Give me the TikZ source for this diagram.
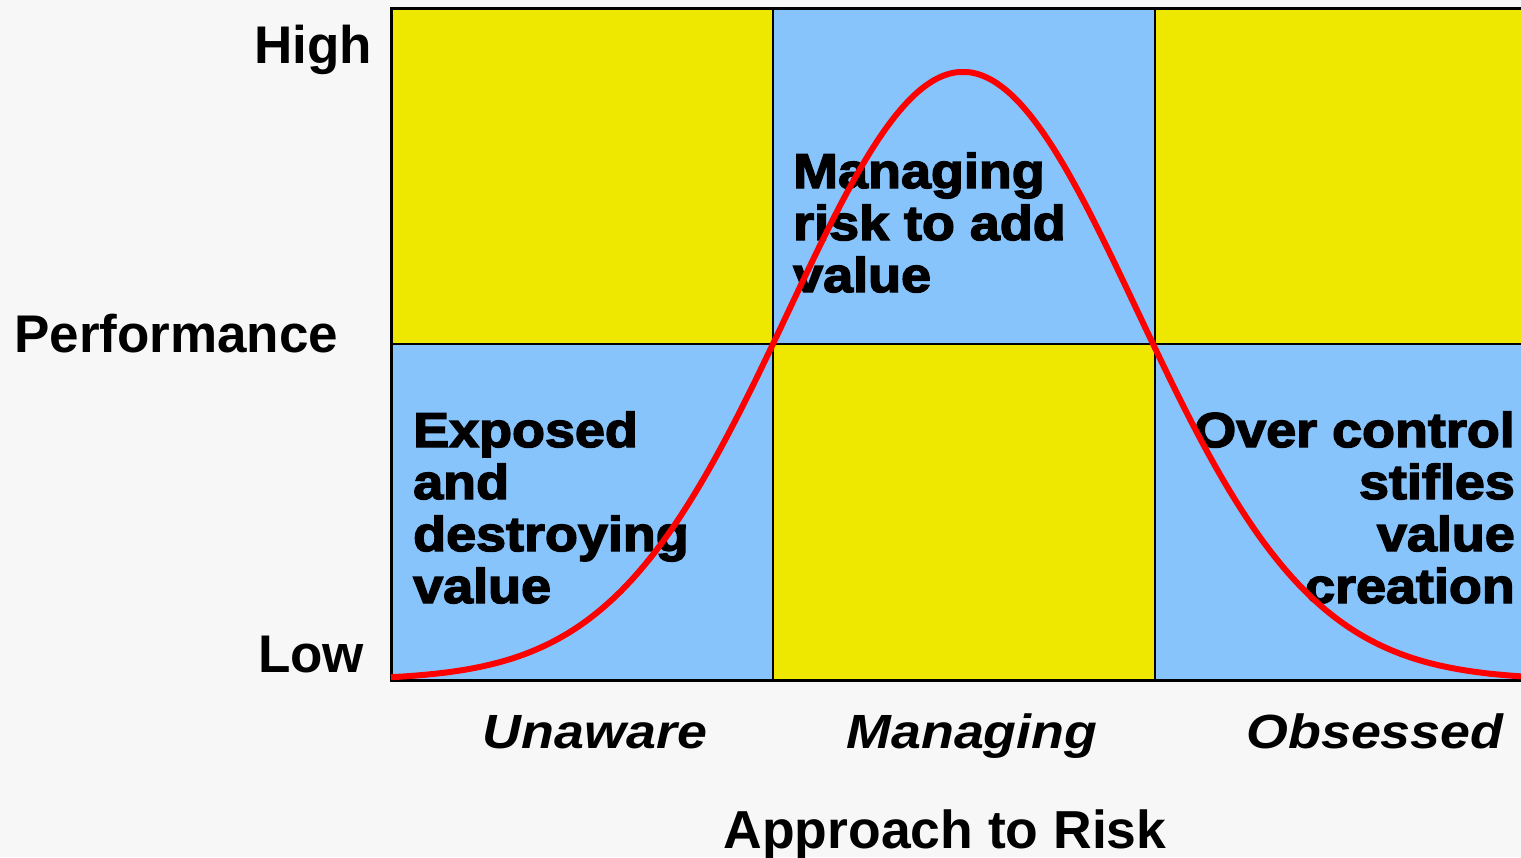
\documentclass[tikz,border=0pt]{standalone}
\usepackage{fontspec}
\setmainfont{Liberation Sans}
\newfontfamily\cellfont[FakeBold=3,FakeStretch=1.1]{Liberation Sans}
\newfontfamily\catfont[FakeStretch=1.12]{Liberation Sans}
\definecolor{bgc}{RGB}{247,247,247}
\definecolor{ylw}{RGB}{238,232,0}
\definecolor{blu}{RGB}{136,196,252}
\definecolor{crv}{RGB}{255,0,0}
\tikzset{
  axislabel/.style={inner sep=0pt, font=\fontsize{53}{60}\selectfont\bfseries},
  catlabel/.style={inner sep=0pt, font=\catfont\fontsize{48}{52}\selectfont\bfseries\itshape},
  celltext/.style={inner sep=0pt, font=\cellfont\fontsize{49}{52}\selectfont\bfseries},
  gridline/.style={draw=black, line width=2pt},
  curveline/.style={draw=crv, line width=6pt}
}
\begin{document}
\begin{tikzpicture}[x=1pt,y=-1pt]
\useasboundingbox (0,0) rectangle (1521,857);
\fill[bgc] (0,0) rectangle (1521,857);
\begin{scope}
\clip (0,0) rectangle (1521,857);
% cells
\fill[ylw] (391,8) rectangle (773,344);
\fill[blu] (773,8) rectangle (1155,344);
\fill[ylw] (1155,8) rectangle (1540,344);
\fill[blu] (391,344) rectangle (773,680);
\fill[ylw] (773,344) rectangle (1155,680);
\fill[blu] (1155,344) rectangle (1540,680);
% grid
\draw[gridline] (391,344) -- (1540,344);
\draw[gridline] (773,8) -- (773,680);
\draw[gridline] (1155,8) -- (1155,680);
\draw[draw=black, line width=3pt] (1540,8) -- (391,8) -- (391,680) -- (1540,680);
% cell texts (base anchor = baseline of the last line)
\node[celltext, anchor=base west, align=left] (exposed) at (413,603) {Exposed\\and\\destroying\\value};
\node[celltext, anchor=base west, align=left] (managingrisk) at (793,292) {Managing\\risk to add\\value};
\node[celltext, anchor=base east, align=right] (overcontrol) at (1515,603) {Over control\\stifles\\value\\creation};
% curve
\draw[curveline, domain=391:1540, samples=240, smooth] plot (\x, {680-608*exp(-((\x-963)/100)^2/6.088)});
\end{scope}
% axis labels
\node[axislabel, anchor=base east] (high) at (372,63) {High};
\node[axislabel, anchor=base west] (perf) at (14,352) {Performance};
\node[axislabel, anchor=base west] (low) at (258,672) {Low};
\node[catlabel, anchor=base] (unaware) at (595,748) {Unaware};
\node[catlabel, anchor=base] (managing) at (972,748) {Managing};
\node[catlabel, anchor=base] (obsessed) at (1375,748) {Obsessed};
\node[axislabel, font=\fontsize{53.5}{60}\selectfont\bfseries, anchor=base] (approach) at (945,848) {Approach to Risk};
\end{tikzpicture}
\end{document}
